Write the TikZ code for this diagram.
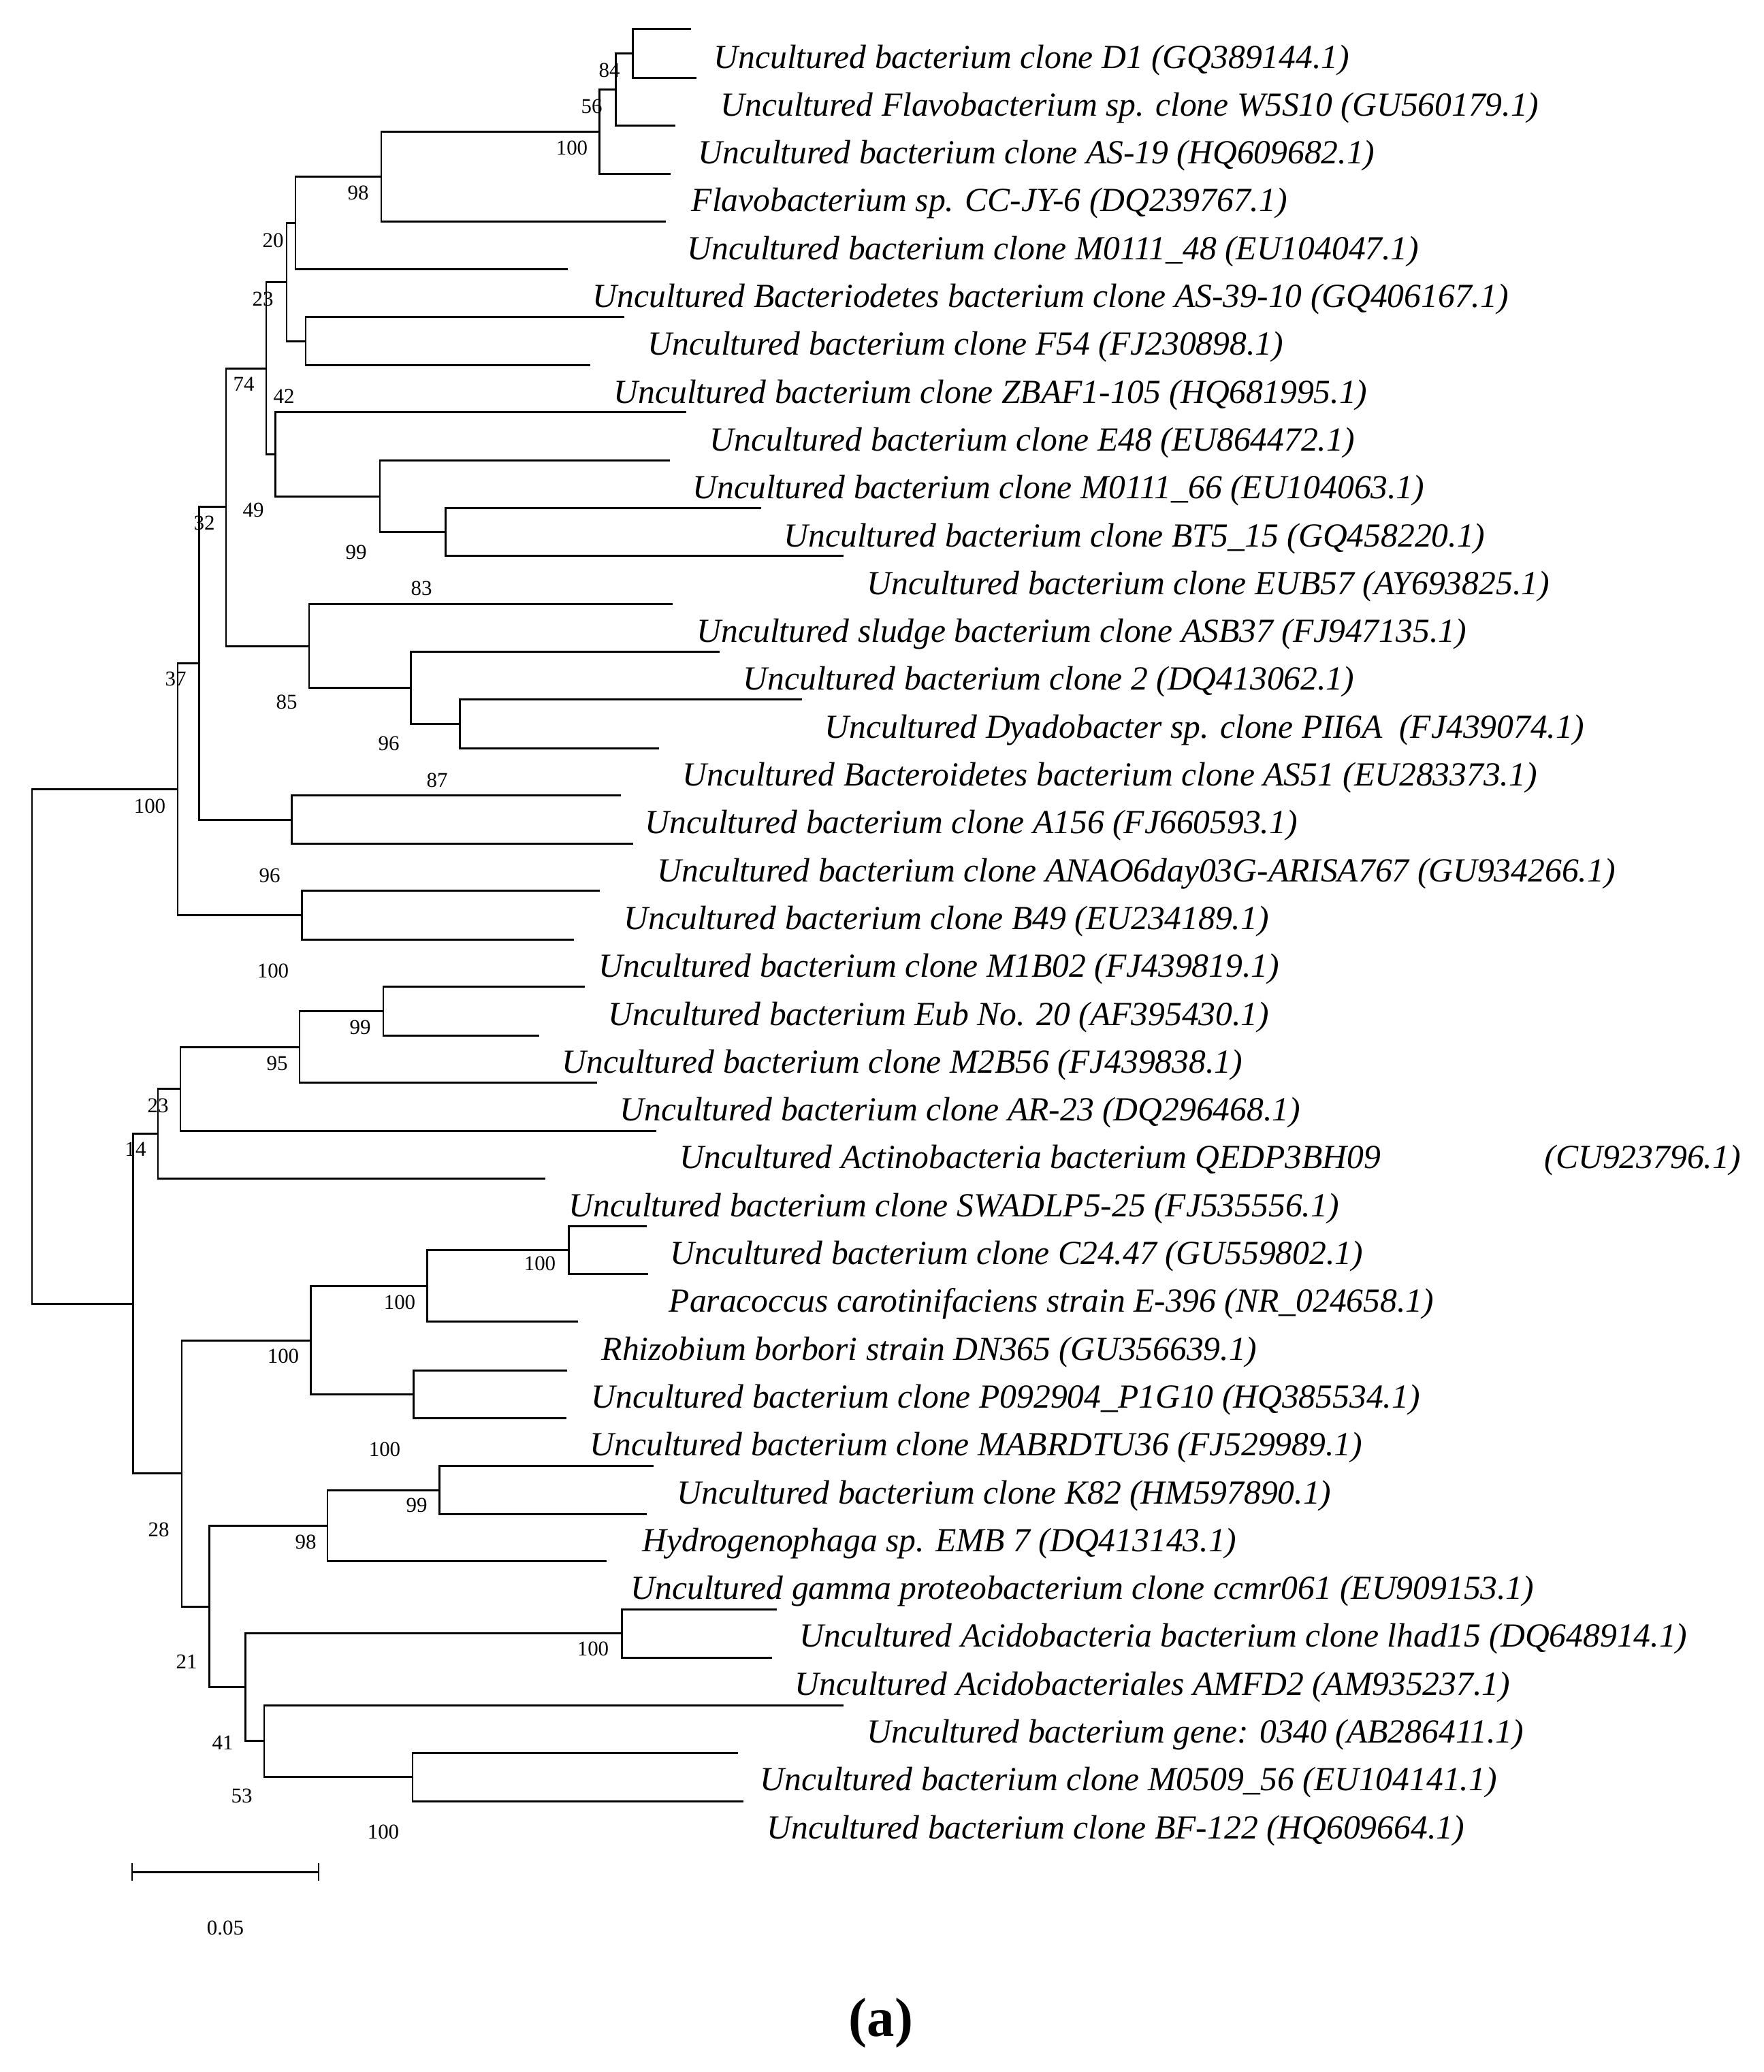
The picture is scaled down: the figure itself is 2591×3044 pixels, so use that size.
\documentclass[tikz,border=0pt]{standalone}
\usepackage{fontspec}
\setmainfont{Liberation Serif}
\usepackage{tikz}
\usetikzlibrary{positioning}

\begin{document}
\begin{tikzpicture}[x=0.01cm, y=-0.01cm,
	branch/.style={line width=0.85pt},
	taxon/.style={anchor=base west, inner sep=0pt, font=\fontsize{14.1}{16}\selectfont\itshape},
	boot/.style={inner sep=0pt, font=\fontsize{8.8}{10}\selectfont}]
\useasboundingbox (0,0) rectangle (2591,3044);

% leaf tips
\coordinate (tip1) at (1015,42.7);
\coordinate (tip2) at (1023,114);
\coordinate (tip3) at (992,184);
\coordinate (tip4) at (985,255);
\coordinate (tip5) at (978,325);
\coordinate (tip6) at (834,395);
\coordinate (tip7) at (917,465.7);
\coordinate (tip8) at (867,536);
\coordinate (tip9) at (1008,605.7);
\coordinate (tip10) at (984,676);
\coordinate (tip11) at (1118,746.7);
\coordinate (tip12) at (1239,816.7);
\coordinate (tip13) at (988,887.7);
\coordinate (tip14) at (1057,957.7);
\coordinate (tip15) at (1178,1027.7);
\coordinate (tip16) at (968,1099);
\coordinate (tip17) at (912,1168.7);
\coordinate (tip18) at (930,1239);
\coordinate (tip19) at (880.5,1308.3);
\coordinate (tip20) at (843,1380);
\coordinate (tip21) at (859,1449.3);
\coordinate (tip22) at (792,1521.3);
\coordinate (tip23) at (877,1590.7);
\coordinate (tip24) at (964,1661);
\coordinate (tip25) at (801,1731.7);
\coordinate (tip26) at (950,1801.7);
\coordinate (tip27) at (952,1871.7);
\coordinate (tip28) at (849,1941.3);
\coordinate (tip29) at (833,2013);
\coordinate (tip30) at (832,2083.3);
\coordinate (tip31) at (960,2153.7);
\coordinate (tip32) at (950,2224);
\coordinate (tip33) at (891,2293.7);
\coordinate (tip34) at (1141,2364);
\coordinate (tip35) at (1134,2435);
\coordinate (tip36) at (1239,2505);
\coordinate (tip37) at (1084,2575);
\coordinate (tip38) at (1092,2646.7);

% inner nodes
\coordinate (nd84) at (929,78.4);
\coordinate (nd56) at (904,131);
\coordinate (nd100a) at (880,193);
\coordinate (nd98a) at (560,259);
\coordinate (nd20) at (434,327);
\coordinate (ndF54) at (449,501);
\coordinate (nd23a) at (421,414);
\coordinate (nd99a) at (654,781.7);
\coordinate (nd49) at (558,729);
\coordinate (nd42) at (404.6,667);
\coordinate (nd74) at (391,541);
\coordinate (nd96a) at (675.7,1063.4);
\coordinate (nd85) at (603.6,1010.8);
\coordinate (nd83) at (454,949);
\coordinate (nd32) at (332,744);
\coordinate (nd87) at (428.6,1204);
\coordinate (nd37) at (292.7,974);
\coordinate (nd96b) at (443.6,1344);
\coordinate (nd100b) at (261,1159);
\coordinate (nd99b) at (563,1485);
\coordinate (nd95) at (440,1538);
\coordinate (nd23b) at (265,1599);
\coordinate (nd14) at (232,1665.5);
\coordinate (nd100c) at (835.7,1836.7);
\coordinate (nd100d) at (627.6,1889);
\coordinate (nd100e) at (607.7,2048);
\coordinate (nd100f) at (456.8,1969);
\coordinate (nd99c) at (645,2189);
\coordinate (nd98b) at (481,2241);
\coordinate (nd100g) at (913.6,2399.5);
\coordinate (nd100h) at (606,2610.8);
\coordinate (nd53) at (388,2557.7);
\coordinate (nd41) at (360.6,2478);
\coordinate (nd21) at (307.6,2360);
\coordinate (nd28) at (267,2164);
\coordinate (ndlow) at (195.7,1915);
\coordinate (root) at (47,1537);

% branches
\draw[branch] (tip1) -| (nd84) |- (tip2);
\draw[branch] (nd84) -| (nd56) |- (tip3);
\draw[branch] (nd56) -| (nd100a) |- (tip4);
\draw[branch] (nd100a) -| (nd98a) |- (tip5);
\draw[branch] (nd98a) -| (nd20) |- (tip6);
\draw[branch] (tip7) -| (ndF54) |- (tip8);
\draw[branch] (nd20) -| (nd23a) |- (ndF54);
\draw[branch] (tip11) -| (nd99a) |- (tip12);
\draw[branch] (tip10) -| (nd49) |- (nd99a);
\draw[branch] (tip9) -| (nd42) |- (nd49);
\draw[branch] (nd23a) -| (nd74) |- (nd42);
\draw[branch] (tip15) -| (nd96a) |- (tip16);
\draw[branch] (tip14) -| (nd85) |- (nd96a);
\draw[branch] (tip13) -| (nd83) |- (nd85);
\draw[branch] (nd74) -| (nd32) |- (nd83);
\draw[branch] (tip17) -| (nd87) |- (tip18);
\draw[branch] (nd32) -| (nd37) |- (nd87);
\draw[branch] (tip19) -| (nd96b) |- (tip20);
\draw[branch] (nd37) -| (nd100b) |- (nd96b);
\draw[branch] (tip21) -| (nd99b) |- (tip22);
\draw[branch] (nd99b) -| (nd95) |- (tip23);
\draw[branch] (nd95) -| (nd23b) |- (tip24);
\draw[branch] (nd23b) -| (nd14) |- (tip25);
\draw[branch] (tip26) -| (nd100c) |- (tip27);
\draw[branch] (nd100c) -| (nd100d) |- (tip28);
\draw[branch] (tip29) -| (nd100e) |- (tip30);
\draw[branch] (nd100d) -| (nd100f) |- (nd100e);
\draw[branch] (tip31) -| (nd99c) |- (tip32);
\draw[branch] (nd99c) -| (nd98b) |- (tip33);
\draw[branch] (tip34) -| (nd100g) |- (tip35);
\draw[branch] (tip37) -| (nd100h) |- (tip38);
\draw[branch] (tip36) -| (nd53) |- (nd100h);
\draw[branch] (nd100g) -| (nd41) |- (nd53);
\draw[branch] (nd98b) -| (nd21) |- (nd41);
\draw[branch] (nd100f) -| (nd28) |- (nd21);
\draw[branch] (nd14) -| (ndlow) |- (nd28);
\draw[branch] (nd100b) -| (root) |- (ndlow);

% taxa
\node[taxon] (lab1) at (1048,100) {Uncultured bacterium clone D1 (GQ389144.1)};
\node[taxon] (lab2) at (1058,170.3) {Uncultured Flavobacterium sp. clone W5S10 (GU560179.1)};
\node[taxon] (lab3) at (1025,240.6) {Uncultured bacterium clone AS-19 (HQ609682.1)};
\node[taxon] (lab4) at (1015,310.9) {Flavobacterium sp. CC-JY-6 (DQ239767.1)};
\node[taxon] (lab5) at (1009,381.2) {Uncultured bacterium clone M0111\_48 (EU104047.1)};
\node[taxon] (lab6) at (870,451.5) {Uncultured Bacteriodetes bacterium clone AS-39-10 (GQ406167.1)};
\node[taxon] (lab7) at (951,521.8) {Uncultured bacterium clone F54 (FJ230898.1)};
\node[taxon] (lab8) at (901,592.1) {Uncultured bacterium clone ZBAF1-105 (HQ681995.1)};
\node[taxon] (lab9) at (1042,662.4) {Uncultured bacterium clone E48 (EU864472.1)};
\node[taxon] (lab10) at (1017,732.7) {Uncultured bacterium clone M0111\_66 (EU104063.1)};
\node[taxon] (lab11) at (1151,803) {Uncultured bacterium clone BT5\_15 (GQ458220.1)};
\node[taxon] (lab12) at (1273,873.3) {Uncultured bacterium clone EUB57 (AY693825.1)};
\node[taxon] (lab13) at (1023,943.6) {Uncultured sludge bacterium clone ASB37 (FJ947135.1)};
\node[taxon] (lab14) at (1091,1013.9) {Uncultured bacterium clone 2 (DQ413062.1)};
\node[taxon] (lab15) at (1211,1084.2) {Uncultured Dyadobacter sp. clone PII6A\ \ (FJ439074.1)};
\node[taxon] (lab16) at (1002,1154.5) {Uncultured Bacteroidetes bacterium clone AS51 (EU283373.1)};
\node[taxon] (lab17) at (947,1224.8) {Uncultured bacterium clone A156 (FJ660593.1)};
\node[taxon] (lab18) at (965,1295.1) {Uncultured bacterium clone ANAO6day03G-ARISA767 (GU934266.1)};
\node[taxon] (lab19) at (916,1365.4) {Uncultured bacterium clone B49 (EU234189.1)};
\node[taxon] (lab20) at (879,1435.7) {Uncultured bacterium clone M1B02 (FJ439819.1)};
\node[taxon] (lab21) at (893,1506) {Uncultured bacterium Eub No. 20 (AF395430.1)};
\node[taxon] (lab22) at (825,1576.3) {Uncultured bacterium clone M2B56 (FJ439838.1)};
\node[taxon] (lab23) at (910,1646.6) {Uncultured bacterium clone AR-23 (DQ296468.1)};
\node[taxon] (lab24) at (998,1716.9) {Uncultured Actinobacteria bacterium QEDP3BH09};
\node[taxon] (lab24b) at (2268,1716.9) {(CU923796.1)};
\node[taxon] (lab25) at (835,1787.2) {Uncultured bacterium clone SWADLP5-25 (FJ535556.1)};
\node[taxon] (lab26) at (984,1857.5) {Uncultured bacterium clone C24.47 (GU559802.1)};
\node[taxon] (lab27) at (982,1927.8) {Paracoccus carotinifaciens strain E-396 (NR\_024658.1)};
\node[taxon] (lab28) at (883,1998.1) {Rhizobium borbori strain DN365 (GU356639.1)};
\node[taxon] (lab29) at (868,2068.4) {Uncultured bacterium clone P092904\_P1G10 (HQ385534.1)};
\node[taxon] (lab30) at (866,2138.7) {Uncultured bacterium clone MABRDTU36 (FJ529989.1)};
\node[taxon] (lab31) at (994,2209) {Uncultured bacterium clone K82 (HM597890.1)};
\node[taxon] (lab32) at (943,2279.3) {Hydrogenophaga sp. EMB 7 (DQ413143.1)};
\node[taxon] (lab33) at (926,2349.6) {Uncultured gamma proteobacterium clone ccmr061 (EU909153.1)};
\node[taxon] (lab34) at (1174,2419.9) {Uncultured Acidobacteria bacterium clone lhad15 (DQ648914.1)};
\node[taxon] (lab35) at (1167,2490.2) {Uncultured Acidobacteriales AMFD2 (AM935237.1)};
\node[taxon] (lab36) at (1273,2560.5) {Uncultured bacterium gene: 0340 (AB286411.1)};
\node[taxon] (lab37) at (1116,2630.8) {Uncultured bacterium clone M0509\_56 (EU104141.1)};
\node[taxon] (lab38) at (1126,2701.1) {Uncultured bacterium clone BF-122 (HQ609664.1)};

% bootstrap values
\node[boot] (bs84) at (895,103) {84};
\node[boot] (bs56) at (869,156) {56};
\node[boot] (bs100a) at (840,217) {100};
\node[boot] (bs98a) at (526,283) {98};
\node[boot] (bs20) at (401,353) {20};
\node[boot] (bs23a) at (386,439) {23};
\node[boot] (bs74) at (358,564) {74};
\node[boot] (bs42) at (417,582) {42};
\node[boot] (bs49) at (372,749) {49};
\node[boot] (bs32) at (300,768) {32};
\node[boot] (bs99a) at (523,811) {99};
\node[boot] (bs83) at (619,864) {83};
\node[boot] (bs37) at (258,997) {37};
\node[boot] (bs85) at (421,1031) {85};
\node[boot] (bs96a) at (571,1092) {96};
\node[boot] (bs87) at (642,1146) {87};
\node[boot] (bs100b) at (220,1184) {100};
\node[boot] (bs96b) at (396,1286) {96};
\node[boot] (bs100c) at (401,1426) {100};
\node[boot] (bs99b) at (529,1509) {99};
\node[boot] (bs95) at (407,1562) {95};
\node[boot] (bs23b) at (232,1624) {23};
\node[boot] (bs14) at (199,1688) {14};
\node[boot] (bs100d) at (793,1856) {100};
\node[boot] (bs100e) at (587,1913) {100};
\node[boot] (bs100f) at (416,1992) {100};
\node[boot] (bs100g) at (565,2129) {100};
\node[boot] (bs99c) at (612,2211) {99};
\node[boot] (bs28) at (233,2247) {28};
\node[boot] (bs98b) at (449,2265) {98};
\node[boot] (bs100h) at (871,2422) {100};
\node[boot] (bs21) at (274,2441) {21};
\node[boot] (bs41) at (327,2560) {41};
\node[boot] (bs53) at (355,2638) {53};
\node[boot] (bs100i) at (563,2691) {100};

% scale bar
\coordinate (sbL) at (194,2750);
\coordinate (sbR) at (468,2750);
\coordinate (sbLt) at (194,2737);
\coordinate (sbLb) at (194,2763);
\coordinate (sbRt) at (468,2737);
\coordinate (sbRb) at (468,2763);
\draw[branch] (sbL) -- (sbR);
\draw[branch] (sbLt) -- (sbLb);
\draw[branch] (sbRt) -- (sbRb);
\node[boot] (sblab) at (331,2832) {0.05};

\node[inner sep=0pt, font=\fontsize{23}{26}\selectfont\bfseries] (panel) at (1294,2972) {(a)};
\end{tikzpicture}
\end{document}
